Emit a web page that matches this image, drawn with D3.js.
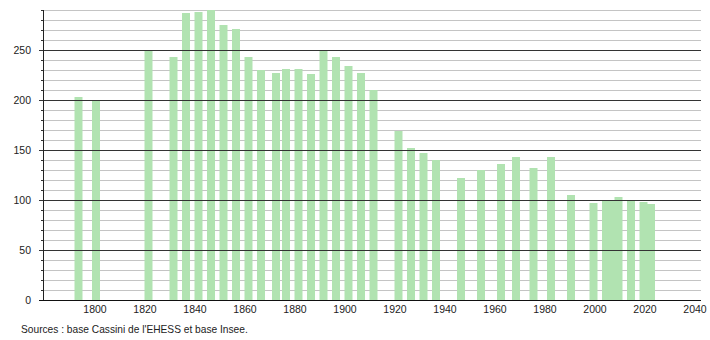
<!DOCTYPE html>
<html><head><meta charset="utf-8">
<script src="https://cdn.jsdelivr.net/npm/d3@7"></script>
<style>body{margin:0;background:#fff}svg{display:block}text{font-family:"Liberation Sans",Arial,sans-serif;fill:#222}</style>
</head><body><svg id="c" width="710" height="340"></svg>
<script>
const years = [1793,1800,1821,1831,1836,1841,1846,1851,1856,1861,1866,1872,1876,1881,1886,1891,1896,1901,1906,1911,1921,1926,1931,1936,1946,1954,1962,1968,1975,1982,1990,1999,2004,2006,2009,2014,2019,2022];
const population = [203,200,250,243,287,288,290,275,271,243,230,227,231,231,226,250,243,234,227,210,169,152,147,140,122,130,136,143,132,143,105,97,100,100,103,100,98,96];
const xTicks = [1800,1820,1840,1860,1880,1900,1920,1940,1960,1980,2000,2020,2040];
const yTicks = [0,50,100,150,200,250];
const sourceText = "Sources : base Cassini de l'EHESS et base Insee.";

const svg = d3.select("#c");
const x = d3.scaleLinear().domain([1778.8, 2042]).range([43, 701]);
const y = d3.scaleLinear().domain([0, 290]).range([300, 10]);

// grid lines
const minor = d3.range(10, 291, 10).filter(v => v % 50 !== 0);
svg.append("g").selectAll("line").data(minor).join("line")
  .attr("x1", 43).attr("x2", 701).attr("y1", d => y(d) + 0.5).attr("y2", d => y(d) + 0.5)
  .attr("stroke", "#c4c4c4").attr("stroke-width", 1);

// bars
const bw = 8;
svg.append("g").selectAll("rect").data(years).join("rect")
  .attr("x", (d) => x(d) - bw / 2).attr("width", bw)
  .attr("y", (d, i) => y(population[i])).attr("height", (d, i) => y(0) - y(population[i]))
  .attr("fill", "#b1e3b1");

// major grid lines
svg.append("g").selectAll("line").data(yTicks.filter(v => v > 0)).join("line")
  .attr("x1", 39).attr("x2", 701).attr("y1", d => y(d) + 0.5).attr("y2", d => y(d) + 0.5)
  .attr("stroke", "#333").attr("stroke-width", 1);

// minor ticks on y axis
svg.append("g").selectAll("line").data(minor).join("line")
  .attr("x1", 41).attr("x2", 43).attr("y1", d => y(d) + 0.5).attr("y2", d => y(d) + 0.5)
  .attr("stroke", "#333");

// y axis line
svg.append("line").attr("x1", 43.5).attr("x2", 43.5).attr("y1", y(290)).attr("y2", y(0))
  .attr("stroke", "#222");
// x axis line
svg.append("line").attr("x1", 39).attr("x2", 701).attr("y1", y(0) + 0.5).attr("y2", y(0) + 0.5)
  .attr("stroke", "#111");

// y labels
svg.append("g").selectAll("text").data(yTicks).join("text")
  .attr("x", 31).attr("y", d => y(d) + 3.5).attr("text-anchor", "end")
  .attr("font-size", "10.5px").text(d => d);

// x labels
svg.append("g").selectAll("text").data(xTicks).join("text")
  .attr("x", d => x(d) - 1).attr("y", 313).attr("text-anchor", "middle")
  .attr("font-size", "10.5px").text(d => d);

svg.append("text").attr("x", 21).attr("y", 333).attr("font-size", "10.2px").text(sourceText);
</script></body></html>
